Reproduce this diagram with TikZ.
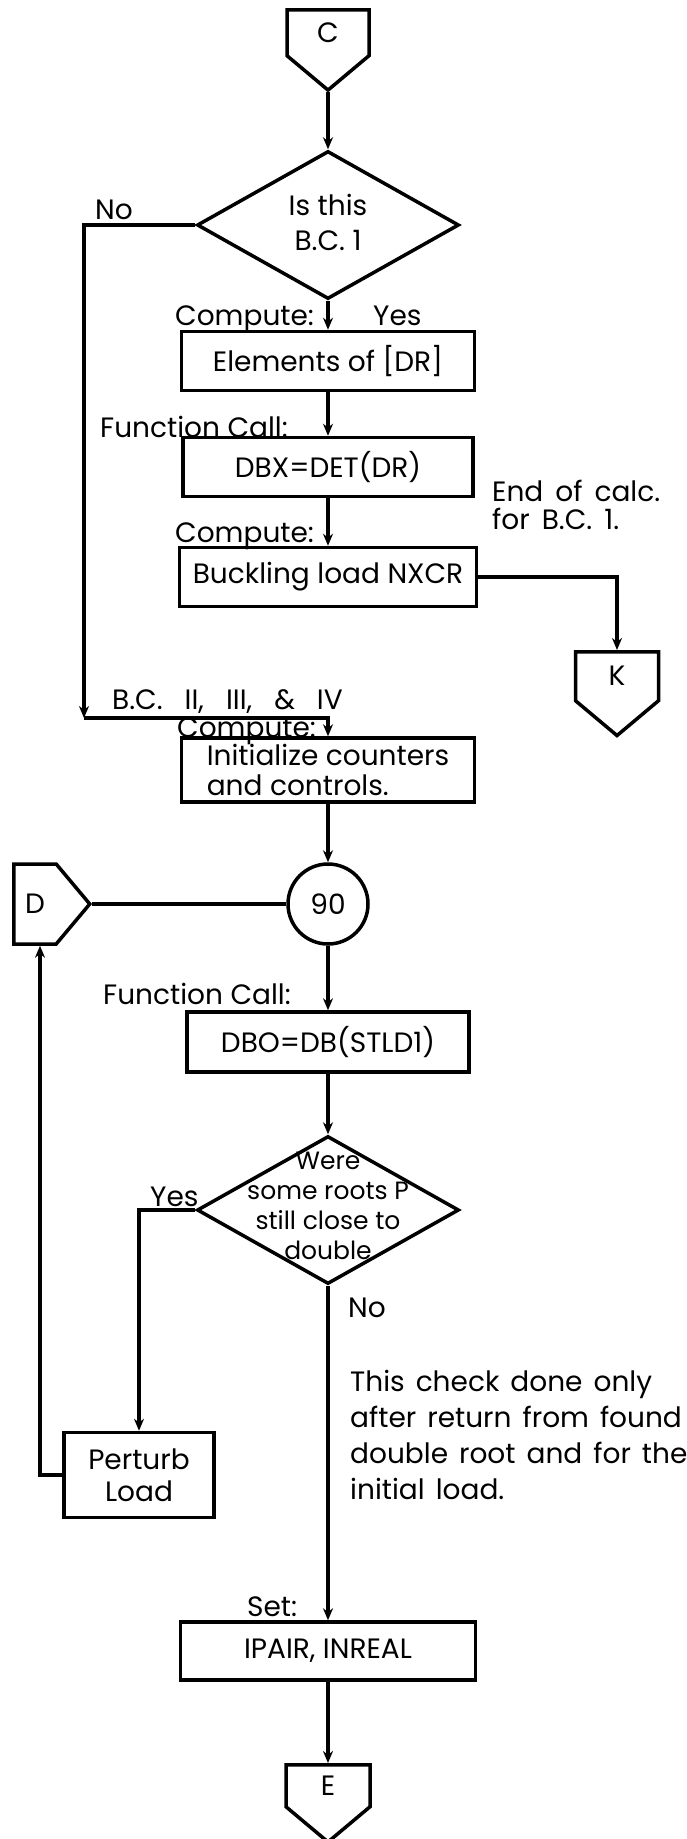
\documentclass[tikz,border=0pt]{standalone}
\usepackage{fontspec}
\setmainfont{Poppins}
\usepackage{tikz}
\usetikzlibrary{arrows.meta,shapes.geometric,shapes.symbols}

\begin{document}
\begin{tikzpicture}[
    x=1pt, y=-1pt,
    >={Stealth[length=12pt,width=10pt]},
    flow/.style={line width=3.5pt},
    proc/.style={rectangle, draw, line width=3.5pt, inner sep=0pt, minimum height=59pt, align=center, font=\fontsize{28}{32}\selectfont},
    decide/.style={diamond, draw, line width=3.5pt, inner sep=0pt, aspect=2, minimum width=262pt, minimum height=148pt},
    offpage/.style={signal, signal to=#1, signal pointer angle=100, draw, line width=3.5pt, inner sep=0pt, font=\fontsize{28}{32}\selectfont},
    joint/.style={circle, draw, line width=3.5pt, minimum size=80pt, inner sep=0pt, font=\fontsize{28}{32}\selectfont},
    lbl/.style={inner sep=0pt, anchor=base west, font=\fontsize{28}{32}\selectfont},
]
\useasboundingbox (0,0) rectangle (686,1839);

% Main column
\node[offpage=south, minimum width=82pt, minimum height=55pt, anchor=north] (C) at (328,8) {C};
\node[decide] (isbc) at (328,225) {};
\node[align=center, font=\fontsize{28}{35}\selectfont] (isbctext) at (328,222) {Is this\\B.C. 1};
\node[proc, minimum width=293pt] (elem) at (328,361) {Elements of [DR]};
\node[proc, minimum width=290pt] (dbx) at (328,467) {DBX=DET(DR)};
\node[proc, minimum width=297pt] (buck) at (328,577) {Buckling load NXCR};
\node[offpage=south, minimum width=83pt, minimum height=56pt, anchor=north] (K) at (617,650) {K};
\node[proc, minimum width=293pt, minimum height=64pt, align=left, font=\fontsize{28}{30}\selectfont] (init) at (328,770) {Initialize counters\\and controls.};
\node[joint] (n90) at (328,904) {90};
\node[offpage=east, minimum width=76pt, minimum height=80pt, anchor=west] (D) at (12,904) {D};
\node[proc, minimum width=282pt, minimum height=60pt] (dbo) at (328,1042) {DBO=DB(STLD1)};
\node[decide] (close) at (328,1210) {};
\node[align=center, font=\fontsize{25}{30}\selectfont] (closetext) at (328,1206) {Were\\some roots P\\still close to\\double};
\node[proc, minimum width=150pt, minimum height=85pt] (perturb) at (139,1475) {Perturb\\Load};
\node[proc, minimum width=295pt, minimum height=58pt] (ipair) at (328,1651) {IPAIR, INREAL};
\node[offpage=south, minimum width=84pt, minimum height=48pt, anchor=north] (E) at (328,1763) {E};

% Side labels
\foreach \name/\x/\y/\t in {
    no1/95/219/No,
    comp1/175/325/Compute:,
    yes1/373/325/Yes,
    call1/100/437/{Function Call:},
    comp2/175/542/Compute:,
    bcrest/112/709/{\spaceskip=22pt B.C. II, III, \& IV},
    comp3/177/737/Compute:,
    call2/103/1004/{Function Call:},
    yes2/150/1206/Yes,
    no2/348/1317/No,
    set1/247/1616/Set:%
} {
    \node[lbl] (\name) at (\x,\y) {\t};
}

% Notes
\node[align=left, anchor=north west, inner sep=0pt, font=\fontsize{28}{28}\selectfont] (endnote) at (492,480) {\spaceskip=12pt End of calc.\\\spaceskip=12pt for B.C. 1.};
\node[align=left, anchor=north west, inner sep=0pt, font=\fontsize{28}{36}\selectfont] (checknote) at (350,1370) {\spaceskip=11pt This check done only\\\spaceskip=11pt after return from found\\\spaceskip=11pt double root and for the\\\spaceskip=11pt initial load.};

% Connectors
\coordinate (bcturn) at (84,718);
\coordinate (dback) at (40,1475);
\draw[flow,->] (C.south) -- (isbc.north);
\draw[flow,->] (isbc.south) -- (elem.north);
\draw[flow,->] (elem) -- (dbx);
\draw[flow,->] (dbx) -- (buck);
\draw[flow,->] (buck.east) -| (K.north);
\draw[flow,->] (isbc.west) -| (bcturn);
\draw[flow,->] (bcturn) -| (init.north);
\draw[flow,->] (init) -- (n90);
\draw[flow] (D.east) -- (n90.west);
\draw[flow,->] (n90) -- (dbo);
\draw[flow,->] (dbo) -- (close.north);
\draw[flow,->] (close.west) -| (perturb.north);
\draw[flow,->] (perturb.west) -- (dback) -- (dback |- D.south);
\draw[flow,->] (close.south) -- (ipair.north);
\draw[flow,->] (ipair) -- (E.north);

\end{tikzpicture}
\end{document}
